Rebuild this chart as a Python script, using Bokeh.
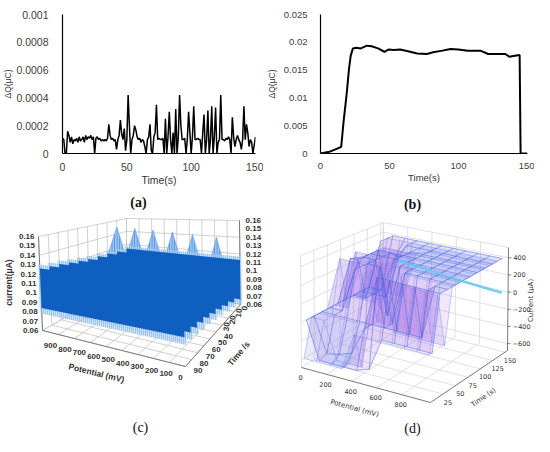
import numpy as np
from bokeh.plotting import figure
from bokeh.layouts import row, column
from bokeh.models import Range1d, FixedTicker, NumeralTickFormatter
from bokeh.embed import file_html
from bokeh.resources import INLINE
from bokeh.core.properties import value

# ---------------- data: panel (a) ----------------
time_a = list(range(151))
dq_a_e4 = [1.1, 1.0, 0, 0, 1.6, 1.3, 0.8, 1.2, 0.7, 1.0,
           0.9, 1.1, 0.8, 1.2, 0.9, 1.0, 1.2, 0.8, 1.3, 1.0,
           1.2, 1.1, 1.3, 1.0, 1.2, 0, 1.1, 1.2, 1.0, 1.1,
           0.9, 1.0, 0.9, 1.0, 0.9, 1.1, 2.1, 1.3, 1.0, 1.1,
           0.9, 1.0, 0.3, 1.0, 1.3, 2.4, 1.4, 1.0, 1.8, 0.2,
           1.0, 4.2, 2.0, 0, 1.0, 1.3, 2.0, 1.7, 1.2, 1.0,
           1.1, 0.8, 1.0, 0.9, 0.5, 0, 1.0, 1.2, 2.1, 0.2,
           0, 1.2, 1.5, 3.5, 1.0, 1.1, 1.0, 1.0, 1.1, 0,
           2.5, 0, 1.2, 3.0, 1.0, 0, 1.5, 0, 3.2, 0,
           1.2, 4.2, 2.0, 1.0, 1.0, 1.1, 0, 1.0, 3.0, 1.5,
           0, 1.2, 3.4, 1.0, 1.0, 1.1, 1.0, 1.0, 0, 1.5,
           2.8, 0, 1.0, 3.1, 0, 1.0, 3.4, 0, 1.2, 3.3,
           0, 0.8, 1.0, 4.2, 1.0, 1.0, 0.9, 1.1, 1.0, 1.2,
           1.0, 0, 2.6, 1.2, 0.5, 1.0, 1.3, 1.0, 0.8, 0.3,
           1.0, 3.4, 1.0, 2.1, 1.5, 0.5, 1.0, 0.8, 0, 0.6,
           1.2]

# ---------------- data: panel (b) ----------------
time_b = [0, 6.4, 12.1, 15.0, 16.6, 18.9, 20.7, 21.9, 23.5, 26, 29.2, 33.7, 37.1,
          41.7, 46.3, 49.2, 53, 57.7, 63.4, 70.2, 77.1, 81.6, 88.4, 94.2, 99.9,
          106.7, 115.8, 121.5, 128, 134, 136.8, 140.9, 144.3, 145, 149.6]
dq_b = [0, 0.0003, 0.00087, 0.0012, 0.0054, 0.0106, 0.0153, 0.0176, 0.0189, 0.0190,
        0.0189, 0.0194, 0.0193, 0.0189, 0.0183, 0.0187, 0.0186, 0.0187, 0.0184, 0.0180,
        0.0179, 0.0182, 0.0185, 0.0188, 0.0187, 0.0185, 0.0185, 0.0179, 0.0179, 0.0179,
        0.0174, 0.0176, 0.0177, 0, 0]

ticks_x_ab = [0, 50, 100, 150]
ticks_y_a = [0, 0.0002, 0.0004, 0.0006, 0.0008, 0.001]
ticks_y_b = [0, 0.005, 0.01, 0.015, 0.02, 0.025]

# ---------------- data: panel (c) ----------------
pot_ticks_c = [900, 800, 700, 600, 500, 400, 300, 200, 100, 0]
time_ticks_c = [90, 80, 70, 60, 50, 40, 30, 20, 10, 0]
cur_ticks_c = [0.06, 0.07, 0.08, 0.09, 0.1, 0.11, 0.12, 0.13, 0.14, 0.15, 0.16]
cur_labels_c = ["0.06", "0.07", "0.08", "0.09", "0.1", "0.11", "0.12", "0.13", "0.14", "0.15", "0.16"]
slice_times_c = [0, 10, 20, 30, 40, 50, 60, 70, 80, 90]
slice_low_c = [0.066, 0.070, 0.073, 0.076, 0.078, 0.080, 0.081, 0.082, 0.083, 0.084]
slice_high_c = [0.113, 0.114, 0.116, 0.117, 0.118, 0.120, 0.122, 0.124, 0.125, 0.126]
peak_pot_c = [900, 760, 620, 470, 315, 130]
peak_cur_c = [0.150, 0.149, 0.148, 0.147, 0.145, 0.143]
peak_time_c = 10

# ---------------- data: panel (d) ----------------
pot_ticks_d = [0, 200, 400, 600, 800]
time_ticks_d = [25, 50, 75, 100, 125, 150]
cur_ticks_d = [-600, -400, -200, 0, 200, 400]
cur_labels_d = ["\u2212600", "\u2212400", "\u2212200", "0", "200", "400"]
potentials_d = [0, 100, 200, 300, 400, 500, 600, 700, 800, 900, 1000]
# forward scans
times_d = [10, 25, 40, 55, 70, 85, 100, 115, 130, 150]
current_d = [
    [-200, -600, -600, -600, -600, -550, -200, -200, -200, -200, -200],
    [-200, -580, -550, -500, -200, 400, 400, 400, 400, 400, 400],
    [-200, -200, -200, -200, -200, -200, -200, -200, -200, 400, 400],
    [-200, -200, 300, 400, 400, -200, 400, 400, 400, 400, 400],
    [-200, 350, 400, 400, -200, 400, 400, 400, 400, 400, 400],
    [-200, 300, 400, 400, 400, 400, 400, 400, 400, 400, 400],
    [-200, -200, 400, 400, 400, 400, 400, 400, 400, 400, 400],
    [-200, -200, -200, 300, 400, 400, 400, 400, 400, 400, 400],
    [-200, -200, 200, 400, 400, 400, 400, 400, 400, 400, 400],
    [300, 400, 400, 400, 400, 400, 400, 400, 400, 400, 400],
]
# reverse scans
times_d2 = [5, 20, 35, 50, 65, 80, 95, 110, 125, 140]
current_d2 = [
    [-600, -600, -600, -600, -200, -200, -200, -200, -200, -200, -200],
    [-200, -200, -600, -600, -600, 300, 400, 400, 400, 400, 400],
    [-200, -200, -200, -200, 400, 400, -200, -200, -200, -200, -200],
    [-200, 400, 400, 400, -200, -200, 400, 400, 400, 400, 400],
    [-200, -200, 350, 400, 400, 400, 400, 400, 400, 400, 400],
    [-200, 400, 400, -200, 400, 400, 400, 400, 400, 400, 400],
    [-200, -200, -200, 400, 400, 400, 400, 400, 400, 400, 400],
    [-200, 300, 400, 400, 400, 400, 400, 400, 400, 400, 400],
    [-200, -200, -200, -200, 350, 400, 400, 400, 400, 400, 400],
    [200, 400, 400, 400, 400, 400, 400, 400, 400, 400, 400],
]
cyan_pot_d = [150, 300, 500, 700, 850, 1000]
cyan_cur_d = [110, 90, 60, 30, 15, 0]
cyan_time_d = 150

SANS = value("Liberation Sans")
SERIF = value("Liberation Serif")
DJV = value("DejaVu Sans")
TOP_H = 194


def style_2d(p, ticks_y, fmt, fs_tick, fs_xlab, fs_ylab, ystand, xstand, ylab_stand):
    p.grid.visible = False
    p.outline_line_color = None
    p.xaxis.ticker = FixedTicker(ticks=ticks_x_ab)
    p.yaxis.ticker = FixedTicker(ticks=ticks_y)
    p.yaxis.formatter = NumeralTickFormatter(format=fmt)
    for ax in (p.xaxis, p.yaxis):
        ax.major_tick_line_color = None
        ax.minor_tick_line_color = None
        ax.axis_line_color = "black"
        ax.axis_line_width = 1.2
        ax.major_label_text_font = "Liberation Sans"
        ax.major_label_text_font_size = fs_tick
        ax.major_label_text_color = "#404040"
        ax.axis_label_text_font = "Liberation Sans"
        ax.axis_label_text_font_style = "normal"
        ax.axis_label_text_color = "#333333"
    p.xaxis.axis_label = "Time(s)"
    p.yaxis.axis_label = "\u0394Q(\u03bcC)"
    p.xaxis.axis_label_text_font_size = fs_xlab
    p.yaxis.axis_label_text_font_size = fs_ylab
    p.yaxis.major_label_standoff = ystand
    p.xaxis.major_label_standoff = xstand
    p.xaxis.axis_label_standoff = 0
    p.yaxis.axis_label_standoff = ylab_stand


# ---------------- panel (a) ----------------
pa = figure(width=263, height=TOP_H, output_backend="svg", toolbar_location=None,
            x_range=Range1d(0, 150), y_range=Range1d(0, 0.001),
            min_border_left=62, min_border_right=8, min_border_top=11,
            min_border_bottom=TOP_H - 153)
style_2d(pa, ticks_y_a, "0.[0000]", "10.5px", "10.5px", "8.5px", 8, 3, 0)
pa.line(time_a, [v * 1e-4 for v in dq_a_e4], line_color="black", line_width=1.5)

# ---------------- panel (b) ----------------
pb = figure(width=271, height=TOP_H, output_backend="svg", toolbar_location=None,
            x_range=Range1d(0, 150), y_range=Range1d(0, 0.025),
            min_border_left=56, min_border_right=7, min_border_top=14,
            min_border_bottom=TOP_H - 158)
style_2d(pb, ticks_y_b, "0.[000]", "9.5px", "9.5px", "8.5px", 7, 3, 4)
pb.line(time_b, dq_b, line_color="black", line_width=2)

# ---------------- bottom: panels (c) and (d) ----------------
pc = figure(width=534, height=436 - TOP_H, output_backend="svg", toolbar_location=None,
            x_range=Range1d(0, 534), y_range=Range1d(436, TOP_H),
            x_axis_location=None, y_axis_location=None, min_border=0)
pc.outline_line_color = None
pc.grid.visible = False


def trilinear(corners, u, v, w):
    u = np.asarray(u, float)
    v = np.asarray(v, float)
    w = np.asarray(w, float)
    x = np.zeros(np.broadcast(u, v, w).shape)
    y = np.zeros_like(x)
    for (i, j, k), (cx, cy) in corners.items():
        wt = (u if i else 1 - u) * (v if j else 1 - v) * (w if k else 1 - w)
        x = x + wt * cx
        y = y + wt * cy
    return x, y


# layout geometry of the two 3-D boxes (pixels)
C_CORN = {(0, 0, 0): (240, 304), (0, 0, 1): (239, 220),
          (0, 1, 0): (185, 366), (0, 1, 1): (181, 244),
          (1, 1, 0): (42, 330), (1, 1, 1): (38, 236),
          (1, 0, 0): (126, 282), (1, 0, 1): (126, 218)}
D_CORN = {(0, 0, 0): (301, 367), (0, 0, 1): (300, 255),
          (1, 0, 0): (430, 402), (1, 0, 1): (431, 290),
          (1, 1, 0): (507, 350), (1, 1, 1): (508, 247),
          (0, 1, 0): (381, 318), (0, 1, 1): (383, 222)}
C_LIM = dict(P=(0, 900), T=(0, 90), I=(0.06, 0.16))
D_LIM = dict(P=(0, 1030), T=(0, 155), I=(-680, 520))


def make_proj(corners, lim):
    def f(P, T, I):
        P, T, I = (np.asarray(a, float) for a in (P, T, I))
        return trilinear(corners,
                         (P - lim["P"][0]) / (lim["P"][1] - lim["P"][0]),
                         (T - lim["T"][0]) / (lim["T"][1] - lim["T"][0]),
                         (I - lim["I"][0]) / (lim["I"][1] - lim["I"][0]))
    return f


proj_c = make_proj(C_CORN, C_LIM)
proj_d = make_proj(D_CORN, D_LIM)


def segs(proj, items):
    xs, ys = [], []
    for P, T, I in items:
        x, y = proj(P, T, I)
        xs.append(list(np.atleast_1d(x)))
        ys.append(list(np.atleast_1d(y)))
    return xs, ys


# ---- panel (c) walls and floor grid
P0, P1 = C_LIM["P"]
T0, T1 = C_LIM["T"]
I0, I1 = C_LIM["I"]
grid_c_I = cur_ticks_c[::2]
items = []
for T in time_ticks_c:
    items.append(([P1, P1], [T, T], [I0, I1]))
    items.append(([P0, P1], [T, T], [I0, I0]))
for I in grid_c_I:
    items.append(([P1, P1], [T0, T1], [I, I]))
    items.append(([P0, P1], [T0, T0], [I, I]))
for P in pot_ticks_c:
    items.append(([P, P], [T0, T0], [I0, I1]))
    items.append(([P, P], [T0, T1], [I0, I0]))
gx, gy = segs(proj_c, items)
pc.multi_line(gx, gy, line_color="#c4c4c4", line_width=0.8)
ex, ey = segs(proj_c, [([P1, P1], [T1, T1], [I0, I1]), ([P0, P1], [T1, T1], [I0, I0]),
                       ([P0, P0], [T0, T1], [I0, I0]), ([P0, P0], [T0, T0], [I0, I1])])
pc.multi_line(ex, ey, line_color="#707070", line_width=0.9)

# ---- panel (c) data: peaks, streaky fringe, body
kx, ky = [], []
base_i = slice_times_c.index(peak_time_c)
for P, I in zip(peak_pot_c, peak_cur_c):
    x, y = proj_c([P - 75, P - 20, P, P + 20, P + 75], [peak_time_c] * 5,
                  [slice_high_c[base_i] - 0.01, I - 0.012, I, I - 0.012,
                   slice_high_c[base_i] - 0.01])
    kx.append(list(x)); ky.append(list(y))
pc.patches(kx, ky, fill_color="#9cc3ef", line_color="#6fa9ea", line_width=0.8,
           hatch_pattern="vertical_line", hatch_color="#3f89dd", hatch_scale=2.5,
           hatch_weight=0.8)
fx, fy, sx, sy = [], [], [], []
for T, lo, hi in zip(slice_times_c, slice_low_c, slice_high_c):
    x, y = proj_c([P0 - 10, P1 + 10, P1 + 10, P0 - 10], [T] * 4,
                  [lo - 0.006, lo - 0.006, hi + 0.004, hi + 0.004])
    fx.append(list(x)); fy.append(list(y))
    x, y = proj_c([P0, P1, P1, P0], [T] * 4, [lo, lo, hi, hi])
    sx.append(list(x)); sy.append(list(y))
pc.patches(fx, fy, fill_color="#b9d5f4", fill_alpha=0.7, line_color=None,
           hatch_pattern="vertical_line", hatch_color="#4f93e0", hatch_scale=2,
           hatch_weight=0.8, hatch_alpha=0.9)
pc.patches(sx, sy, fill_color="#0f5fc1", line_color=None)

# ---- panel (c) texts
bold8 = dict(text_font=SANS, text_font_size="8px", text_font_style="bold", text_color="#333333")
lx, ly = proj_c([P1] * len(cur_ticks_c), [T1] * len(cur_ticks_c), cur_ticks_c)
pc.text(lx - 4, ly, text=cur_labels_c, text_align="right", text_baseline="middle", **bold8)
rx, ry = proj_c([P0] * len(cur_ticks_c), [T0] * len(cur_ticks_c), cur_ticks_c)
pc.text(rx + 6, ry, text=cur_labels_c, text_align="left", text_baseline="middle", **bold8)
px_, py_ = proj_c(pot_ticks_c, [T1] * len(pot_ticks_c), [I0] * len(pot_ticks_c))
frac = np.asarray(pot_ticks_c, float) / P1
pc.text(px_ + (-5 + 13 * frac), py_ + 11 + 4 * frac, text=[str(v) for v in pot_ticks_c],
        text_align="center", text_baseline="middle", **bold8)
tx_, ty_ = proj_c([P0] * len(time_ticks_c), time_ticks_c, [I0] * len(time_ticks_c))
big = [t for t in time_ticks_c if t >= 40]
small = [t for t in time_ticks_c if t < 40]
nb = len(big)
pc.text(tx_[:nb] + 8, ty_[:nb] + 4, text=[str(v) for v in big],
        text_align="left", text_baseline="middle", **bold8)
pc.text(tx_[nb:] + 4, ty_[nb:] + 6, text=[str(v) for v in small], angle=1.45,
        text_align="left", text_baseline="middle", **bold8)
bold85 = dict(bold8, text_font_size="8.5px")
pc.text([8.5], [282], text=["current(\u03bcA)"], angle=np.pi / 2,
        text_align="center", text_baseline="middle", **bold85)
pc.text([96], [372.5], text=["Potential (mV)"], angle=-0.24,
        text_align="center", text_baseline="middle", **bold85)
pc.text([238], [353], text=["Time /s"], angle=0.87,
        text_align="center", text_baseline="middle", **bold85)

# ---- panel (d) walls and floor grid
P0, P1 = D_LIM["P"]
T0, T1 = D_LIM["T"]
Z0, Z1 = D_LIM["I"]
items = []
for T in time_ticks_d:
    items.append(([P0, P0], [T, T], [Z0, Z1]))
    items.append(([P0, P1], [T, T], [Z0, Z0]))
for P in pot_ticks_d:
    items.append(([P, P], [T1, T1], [Z0, Z1]))
    items.append(([P, P], [T0, T1], [Z0, Z0]))
for Z in cur_ticks_d:
    items.append(([P0, P0], [T0, T1], [Z, Z]))
    items.append(([P0, P1], [T1, T1], [Z, Z]))
items += [([P0, P0], [T0, T0], [Z0, Z1]), ([P0, P0], [T0, T1], [Z1, Z1]),
          ([P0, P1], [T1, T1], [Z1, Z1]), ([P0, P0], [T1, T1], [Z0, Z1])]
gx, gy = segs(proj_d, items)
pc.multi_line(gx, gy, line_color="#d9d9d9", line_width=0.8)
ex, ey = segs(proj_d, [([P0, P1], [T0, T0], [Z0, Z0]), ([P1, P1], [T0, T1], [Z0, Z0]),
                       ([P1, P1], [T1, T1], [Z0, Z1])])
pc.multi_line(ex, ey, line_color="#555555", line_width=0.8)

# ---- panel (d) surfaces
blue = np.array([90, 115, 235])
purple = np.array([180, 125, 230])


def draw_surface(times, cur, fill_alpha, line_color, line_alpha):
    Zs = np.asarray(cur, float)
    qx, qy, qc = [], [], []
    for i in range(len(times) - 1):
        for j in range(len(potentials_d) - 1):
            Pq = [potentials_d[j], potentials_d[j + 1], potentials_d[j + 1], potentials_d[j]]
            Tq = [times[i], times[i], times[i + 1], times[i + 1]]
            Zq = [Zs[i, j], Zs[i, j + 1], Zs[i + 1, j + 1], Zs[i + 1, j]]
            x, y = proj_d(Pq, Tq, Zq)
            qx.append(list(x)); qy.append(list(y))
            t = min(1.0, max(0.0, (np.ptp(Zq) / 600.0) * 0.8 + 0.2 * (np.mean(Zq) + 600) / 1000))
            c = (blue * (1 - t) + purple * t).astype(int)
            qc.append("#%02x%02x%02x" % tuple(c))
    pc.patches(qx, qy, fill_color=qc, fill_alpha=fill_alpha, line_color=None)
    wx, wy = [], []
    for i, T in enumerate(times):
        x, y = proj_d(potentials_d, [T] * len(potentials_d), Zs[i])
        wx.append(list(x)); wy.append(list(y))
    for j, P in enumerate(potentials_d):
        x, y = proj_d([P] * len(times), times, Zs[:, j])
        wx.append(list(x)); wy.append(list(y))
    pc.multi_line(wx, wy, line_color=line_color, line_alpha=line_alpha, line_width=0.8)


draw_surface(times_d2, current_d2, 0.17, "#7b93f0", 0.6)
draw_surface(times_d, current_d, 0.24, "#4a66e0", 0.65)
cx, cy = proj_d(cyan_pot_d, [cyan_time_d] * len(cyan_pot_d), cyan_cur_d)
pc.line(cx, cy, line_color="#62c6f2", line_width=2.5, line_alpha=0.85)

# ---- panel (d) texts
sm = dict(text_font=DJV, text_font_size="6.5px", text_color="#333333")
x, y = proj_d(pot_ticks_d, [T0] * len(pot_ticks_d), [Z0] * len(pot_ticks_d))
pc.text(x - 1, y + 10, text=[str(v) for v in pot_ticks_d], text_align="center",
        text_baseline="middle", **sm)
x, y = proj_d([P1] * len(time_ticks_d), time_ticks_d, [Z0] * len(time_ticks_d))
pc.text(x + 5, y + 8, text=[str(v) for v in time_ticks_d], text_align="center",
        text_baseline="middle", **sm)
x, y = proj_d([P1] * len(cur_ticks_d), [T1] * len(cur_ticks_d), cur_ticks_d)
pc.text(x + 5, y, text=cur_labels_d, text_align="left", text_baseline="middle", **sm)
tk = dict(line_color="#555555", line_width=0.7)
pc.multi_line([[a, a + 3] for a in x], [[b, b] for b in y], **tk)
sm7 = dict(sm, text_font_size="7px")
pc.text([530], [300], text=["Current (\u03bcA)"], angle=np.pi / 2,
        text_align="center", text_baseline="middle", **sm7)
pc.text([354], [408], text=["Potential (mV)"], angle=-0.27,
        text_align="center", text_baseline="middle", **sm7)
pc.text([483], [397], text=["Time (s)"], angle=0.6,
        text_align="center", text_baseline="middle", **sm7)

# ---- panel captions
pc.text([138, 412], [202, 203.5], text=["(a)", "(b)"], text_font=SERIF,
        text_font_size="14px", text_font_style="bold", text_color="#111111",
        text_align="center", text_baseline="middle")
pc.text([140, 412], [427, 428], text=["(c)", "(d)"], text_font=SERIF,
        text_font_size="14px", text_color="#111111",
        text_align="center", text_baseline="middle")

layout = column(row(pa, pb, spacing=0), pc, spacing=0)
open("out.html", "w").write(file_html(layout, INLINE))
